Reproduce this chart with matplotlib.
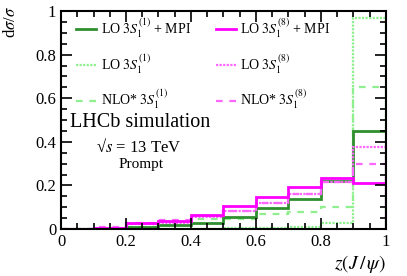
import numpy as np
import matplotlib
matplotlib.use("Agg")
import matplotlib.pyplot as plt

plt.rcParams['font.family'] = ['Liberation Serif', 'DejaVu Serif']
plt.rcParams['mathtext.fontset'] = 'stix'

edges = np.linspace(0, 1, 11)

# fraction per bin
lo1_mpi = [0.002, 0.002, 0.008, 0.018, 0.026, 0.057, 0.095, 0.138, 0.220, 0.450]
lo1 = [0.0, 0.0, 0.001, 0.001, 0.002, 0.003, 0.005, 0.008, 0.026, 0.968]
nlo1 = [0.002, 0.003, 0.010, 0.020, 0.045, 0.046, 0.068, 0.077, 0.102, 0.650]
lo8_mpi = [0.002, 0.005, 0.026, 0.038, 0.066, 0.108, 0.148, 0.194, 0.236, 0.210]
lo8 = [0.002, 0.006, 0.022, 0.030, 0.056, 0.085, 0.118, 0.160, 0.214, 0.375]
nlo8 = [0.002, 0.010, 0.030, 0.042, 0.058, 0.085, 0.120, 0.162, 0.214, 0.298]

ticks = [0, 0.2, 0.4, 0.6, 0.8, 1]
tick_labels = ['0', '0.2', '0.4', '0.6', '0.8', '1']
minor = np.arange(0, 1.0001, 0.05)

fig = plt.figure(figsize=(4.07, 2.76), dpi=100)
ax = fig.add_axes([0.150, 0.170, 0.798, 0.790])

dgreen = '#2f8f2f'
lgreen = '#90f090'
mag = '#ff00ff'
lmag = '#ff66ff'

ax.stairs(lo1, edges, color=lgreen, lw=1.6, ls=(0, (1, 0.6)), label=r'LO $3S_1^{(1)}$')
ax.stairs(nlo1, edges, color=lgreen, lw=1.6, ls=(0, (3, 3)), label=r'NLO* $3S_1^{(1)}$')
ax.stairs(lo1_mpi, edges, color=dgreen, lw=2, label=r'LO $3S_1^{(1)}$ + MPI')
ax.stairs(lo8, edges, color=lmag, lw=1.6, ls=(0, (1, 0.6)), label=r'LO $3S_1^{(8)}$')
ax.stairs(nlo8, edges, color=lmag, lw=1.6, ls=(0, (3, 3)), label=r'NLO* $3S_1^{(8)}$')
ax.stairs(lo8_mpi, edges, color=mag, lw=2, label=r'LO $3S_1^{(8)}$ + MPI')

ax.set_xlim(0, 1)
ax.set_ylim(0, 1)
ax.set_xticks(ticks)
ax.set_xticklabels(tick_labels)
ax.set_xticks(minor, minor=True)
ax.set_yticks(ticks)
ax.set_yticklabels(tick_labels)
ax.set_yticks(minor, minor=True)
ax.tick_params(which='both', direction='in', top=True, right=True, labelsize=12, width=1.2)
ax.tick_params(which='major', length=8)
ax.tick_params(which='minor', length=4)
for s in ax.spines.values():
    s.set_linewidth(1.5)

ax.set_ylabel(r'd$\sigma$/$\sigma$', fontsize=12)
ax.yaxis.set_label_coords(-0.128, 0.95)
ax.set_xlabel(r'$z(J\,/\,\psi)$', fontsize=14, ha='right')
ax.xaxis.set_label_coords(1.0, -0.11)

h, l = ax.get_legend_handles_labels()
order = [2, 0, 1, 5, 3, 4]
ax.legend([h[i] for i in order], [l[i] for i in order], ncol=2, frameon=False,
          fontsize=10, loc='upper left', bbox_to_anchor=(0.03, 1.0),
          borderaxespad=0.0, handlelength=1.45, handletextpad=0.3,
          columnspacing=1.8, labelspacing=0.9)

ax.text(0.028, 0.49, 'LHCb simulation', transform=ax.transAxes, fontsize=14.5,
        va='center', ha='left')
ax.text(0.108, 0.376, '\u221a' + r'$s$' + ' = 13 TeV', transform=ax.transAxes,
        fontsize=12, va='center', ha='left')
ax.text(0.246, 0.294, 'Prompt', transform=ax.transAxes, fontsize=11,
        va='center', ha='center')

fig.savefig('out.png', dpi=100)
